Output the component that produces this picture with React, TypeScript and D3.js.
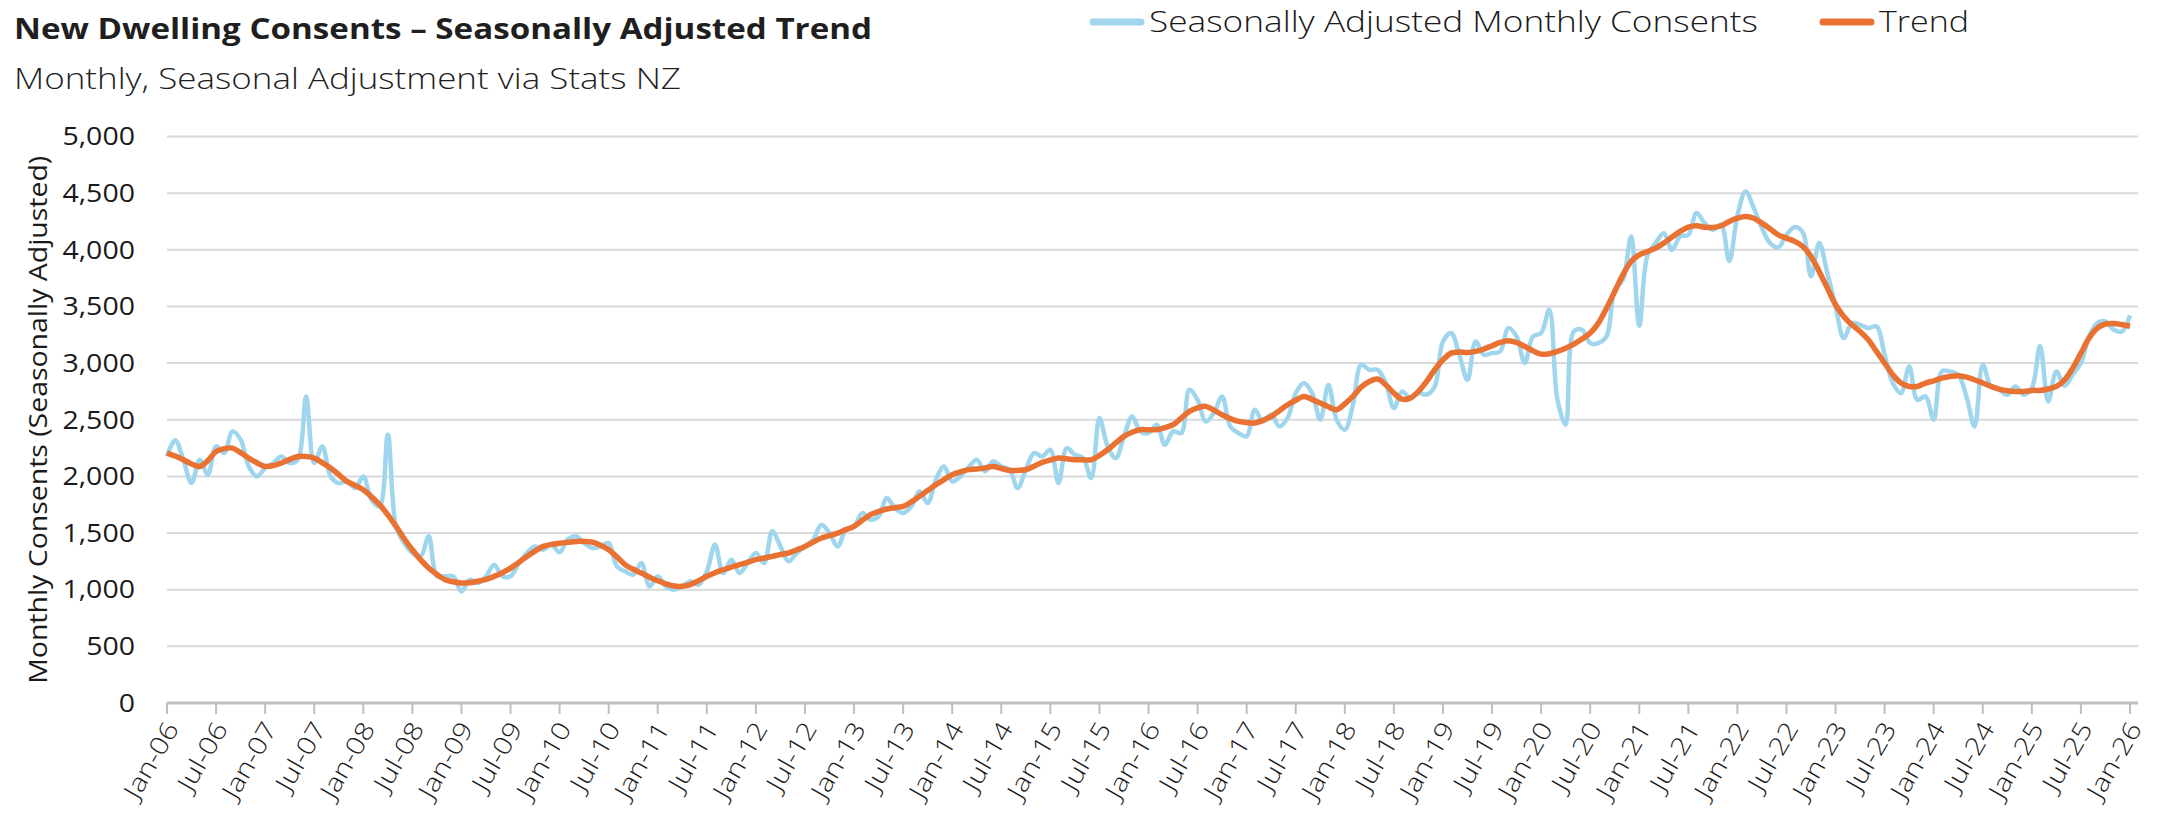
import React, { useRef, useEffect } from "react";
import * as d3 from "d3";

// Monthly, Jan-06 .. Jan-26 (241 months)
const startMonth = new Date(2006, 0, 1);
const endMonth = new Date(2026, 1, 1);
const months = d3.timeMonth.range(startMonth, endMonth);

const seasonallyAdjusted = [
  2180, 2320, 2147, 1941, 2147, 2015, 2265, 2206, 2397, 2324, 2088, 2000,
  2074, 2118, 2176, 2118, 2147, 2706, 2118, 2265, 2000, 1941, 1956, 1897,
  2000, 1794, 1735, 2368, 1559, 1412, 1324, 1294, 1471, 1118, 1118, 1118,
  985, 1088, 1059, 1118, 1221, 1118, 1118, 1235, 1324, 1382, 1353, 1397,
  1330, 1445, 1471, 1412, 1368, 1382, 1412, 1206, 1162, 1132, 1235, 1029,
  1118, 1029, 1000, 1029, 1074, 1044, 1162, 1397, 1147, 1265, 1147, 1235,
  1324, 1235, 1515, 1382, 1250, 1324, 1382, 1441, 1574, 1500, 1382, 1529,
  1559, 1676, 1618, 1647, 1809, 1721, 1676, 1735, 1868, 1765, 1971, 2088,
  1956, 2000, 2080, 2147, 2044, 2132, 2088, 2059, 1897, 2059, 2206, 2176,
  2235, 1941, 2250, 2191, 2162, 1985, 2515, 2265, 2162, 2353, 2529, 2397,
  2382, 2456, 2279, 2397, 2382, 2765, 2676, 2485, 2559, 2706, 2441, 2382,
  2353, 2588, 2485, 2544, 2441, 2515, 2735, 2824, 2735, 2500, 2809, 2500,
  2412, 2632, 2985, 2941, 2941, 2824, 2603, 2750, 2691, 2735, 2721, 2794,
  3191, 3265, 3074, 2853, 3191, 3074, 3088, 3103, 3309, 3235, 3000, 3235,
  3265, 3471, 2676, 2456, 3279, 3294, 3176, 3176, 3235, 3647, 3735, 4118,
  3330, 3950, 4059, 4147, 4000, 4118, 4132, 4324, 4235, 4176, 4220, 3900,
  4300, 4515, 4370, 4191, 4059, 4021, 4132, 4200, 4153, 3765, 4059, 3794,
  3500, 3221, 3353, 3338, 3309, 3324, 3074, 2824, 2735, 2971, 2676, 2706,
  2500, 2926, 2926, 2897, 2706, 2441, 2985, 2794, 2765, 2721, 2794, 2721,
  2780, 3150, 2660, 2926, 2800, 2900, 3000, 3235, 3353, 3368, 3294, 3279,
  3420,
];

const trend = [
  2206, 2180, 2147, 2110, 2088, 2140, 2220, 2245, 2250, 2210, 2162, 2120,
  2088, 2095, 2118, 2150, 2176, 2175, 2162, 2120, 2074, 2015, 1956, 1920,
  1882, 1820, 1750, 1660, 1559, 1450, 1353, 1265, 1191, 1135, 1088, 1070,
  1059, 1062, 1074, 1092, 1118, 1150, 1191, 1240, 1294, 1340, 1382, 1400,
  1410, 1418, 1426, 1426, 1420, 1392, 1353, 1290, 1221, 1180, 1147, 1110,
  1079, 1052, 1032, 1030, 1044, 1080, 1118, 1150, 1176, 1200, 1221, 1243,
  1265, 1280, 1294, 1310, 1324, 1352, 1382, 1420, 1456, 1478, 1500, 1530,
  1559, 1612, 1662, 1690, 1712, 1724, 1735, 1775, 1824, 1875, 1926, 1972,
  2015, 2040, 2060, 2065, 2075, 2088, 2070, 2053, 2053, 2059, 2090, 2124,
  2145, 2162, 2155, 2147, 2147, 2147, 2185, 2235, 2295, 2353, 2390, 2412,
  2412, 2412, 2430, 2456, 2515, 2574, 2605, 2618, 2585, 2544, 2510, 2485,
  2475, 2471, 2495, 2529, 2580, 2632, 2672, 2706, 2680, 2647, 2615, 2588,
  2640, 2706, 2788, 2838, 2859, 2809, 2735, 2682, 2691, 2750, 2838, 2941,
  3029, 3088, 3097, 3094, 3103, 3124, 3153, 3182, 3197, 3182, 3147, 3109,
  3079, 3082, 3103, 3132, 3168, 3212, 3265, 3353, 3485, 3632, 3779, 3897,
  3956, 3985, 4015, 4059, 4112, 4162, 4200, 4212, 4200, 4197, 4212, 4250,
  4279, 4294, 4279, 4235, 4185, 4132, 4103, 4074, 4029, 3941, 3809, 3662,
  3515, 3412, 3338, 3279, 3206, 3103, 3000, 2897, 2824, 2794, 2794, 2824,
  2844, 2868, 2882, 2888, 2876, 2853, 2824, 2794, 2771, 2756, 2750, 2750,
  2759, 2759, 2771, 2794, 2853, 2956, 3088, 3221, 3309, 3345, 3350, 3340,
  3325,
];

const yTicks = [0, 500, 1000, 1500, 2000, 2500, 3000, 3500, 4000, 4500, 5000];
const seriesNames = ["Seasonally Adjusted Monthly Consents", "Trend"];
const seriesColors = ["#9fd6ee", "#e97132"];
const legendWidths = [609, 90];

const FONT = "'Open Sans', 'Noto Sans', sans-serif";

const Chart = ({ width = 2162, height = 826 }) => {
  const ref = useRef(null);

  useEffect(() => {
    const svg = d3.select(ref.current);
    svg.selectAll("*").remove();

    const left = 167;
    const right = 2130;
    const top = 136.5;
    const bottom = 703;

    const x = d3.scaleLinear().domain([0, months.length - 1]).range([left, right]);
    const y = d3.scaleLinear().domain([0, 5000]).range([bottom, top]);

    // gridlines
    svg
      .append("g")
      .selectAll("line")
      .data(yTicks.filter((d) => d > 0))
      .enter()
      .append("line")
      .attr("x1", left)
      .attr("x2", right + 8)
      .attr("y1", (d) => y(d))
      .attr("y2", (d) => y(d))
      .attr("stroke", "#d9d9d9")
      .attr("stroke-width", 2);

    // y labels (Poppins-like width: stretch a bit)
    svg
      .append("g")
      .selectAll("text")
      .data(yTicks)
      .enter()
      .append("text")
      .attr("transform", (d) => `translate(135,${y(d)}) scale(1.14,1)`)
      .attr("dy", "0.35em")
      .attr("text-anchor", "end")
      .attr("font-family", FONT)
      .attr("font-size", 25)
      .attr("fill", "#1a1a1a")
      .text((d) => d3.format(",")(d));

    // y title
    svg
      .append("text")
      .attr("transform", `translate(38,${(top + bottom) / 2}) rotate(-90)`)
      .attr("text-anchor", "middle")
      .attr("dy", "0.35em")
      .attr("font-family", FONT)
      .attr("font-size", 25)
      .attr("textLength", 528)
      .attr("lengthAdjust", "spacingAndGlyphs")
      .attr("fill", "#1a1a1a")
      .text("Monthly Consents (Seasonally Adjusted)");

    // x axis
    const tickIdx = d3.range(0, months.length, 6);
    const fmt = d3.timeFormat("%b-%y");
    const xAxis = svg.append("g");
    xAxis
      .append("line")
      .attr("x1", left)
      .attr("x2", right + 8)
      .attr("y1", bottom)
      .attr("y2", bottom)
      .attr("stroke", "#bfbfbf")
      .attr("stroke-width", 3);
    xAxis
      .selectAll(".tick")
      .data(tickIdx)
      .enter()
      .append("line")
      .attr("x1", (d) => x(d))
      .attr("x2", (d) => x(d))
      .attr("y1", bottom)
      .attr("y2", bottom + 11)
      .attr("stroke", "#bfbfbf")
      .attr("stroke-width", 2);
    xAxis
      .selectAll("text")
      .data(tickIdx)
      .enter()
      .append("text")
      .attr("transform", (d) => `translate(${x(d) + 5},${bottom + 21}) rotate(-60) scale(1.18,1)`)
      .attr("text-anchor", "end")
      .attr("dy", "0.35em")
      .attr("font-family", FONT)
      .attr("font-size", 25)
      .attr("font-weight", 300)
      .attr("fill", "#1a1a1a")
      .text((d) => fmt(months[d]));

    // lines
    const line = d3
      .line()
      .x((d, i) => x(i))
      .y((d) => y(d))
      .curve(d3.curveCatmullRom.alpha(0.5));

    svg
      .append("path")
      .attr("d", line(seasonallyAdjusted))
      .attr("fill", "none")
      .attr("stroke", seriesColors[0])
      .attr("stroke-width", 4.5)
      .attr("stroke-linejoin", "round");

    svg
      .append("path")
      .attr("d", line(trend))
      .attr("fill", "none")
      .attr("stroke", seriesColors[1])
      .attr("stroke-width", 5.5)
      .attr("stroke-linejoin", "round");

    // title + subtitle
    svg
      .append("text")
      .attr("x", 14)
      .attr("y", 39)
      .attr("font-family", FONT)
      .attr("font-size", 29)
      .attr("font-weight", 700)
      .attr("textLength", 858)
      .attr("lengthAdjust", "spacingAndGlyphs")
      .attr("fill", "#1f1f1f")
      .text("New Dwelling Consents – Seasonally Adjusted Trend");
    svg
      .append("text")
      .attr("x", 14)
      .attr("y", 89)
      .attr("font-family", FONT)
      .attr("font-size", 29)
      .attr("font-weight", 300)
      .attr("textLength", 667)
      .attr("lengthAdjust", "spacingAndGlyphs")
      .attr("fill", "#1f1f1f")
      .text("Monthly, Seasonal Adjustment via Stats NZ");

    // legend
    const legendX = [1089, 1819];
    const lg = svg
      .append("g")
      .selectAll("g")
      .data(seriesNames)
      .enter()
      .append("g")
      .attr("transform", (d, i) => `translate(${legendX[i]},22)`);
    lg.append("line")
      .attr("x1", 4)
      .attr("x2", 52)
      .attr("stroke", (d, i) => seriesColors[i])
      .attr("stroke-width", 7)
      .attr("stroke-linecap", "round");
    lg.append("text")
      .attr("x", 60)
      .attr("dy", "0.35em")
      .attr("font-family", FONT)
      .attr("font-size", 29)
      .attr("font-weight", 300)
      .attr("textLength", (d, i) => legendWidths[i])
      .attr("lengthAdjust", "spacingAndGlyphs")
      .attr("fill", "#1a1a1a")
      .text((d) => d);
  }, []);

  return <svg ref={ref} width={width} height={height} style={{ display: "block" }} />;
};

export default function App() {
  useEffect(() => {
    document.body.style.margin = "0";
  }, []);
  return <Chart />;
}
